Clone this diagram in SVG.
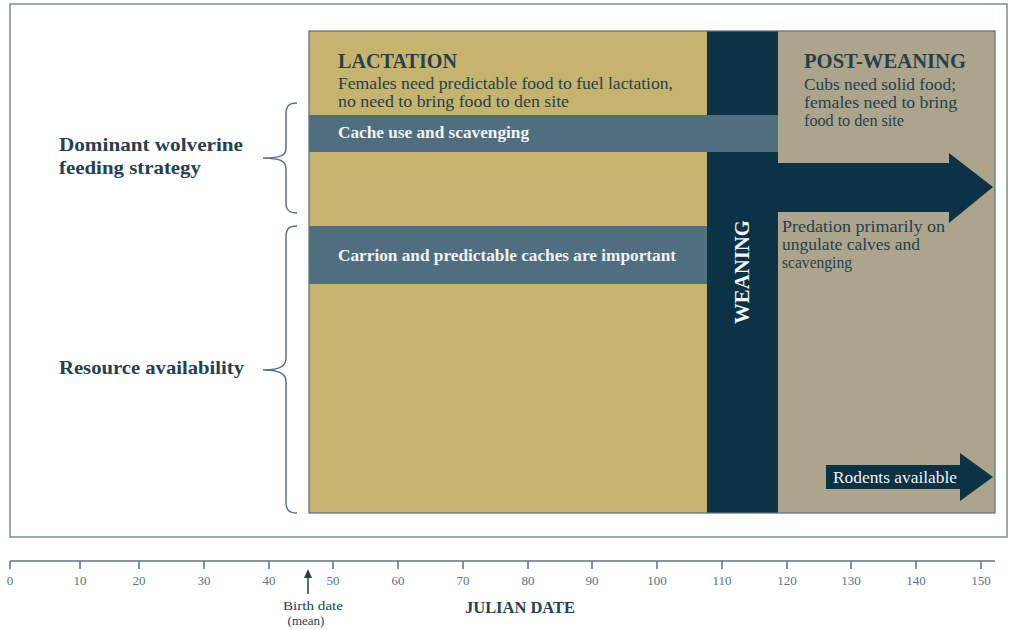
<svg xmlns="http://www.w3.org/2000/svg" width="1010" height="630" viewBox="0 0 1010 630">
<style>
.t{font-family:"Liberation Serif","DejaVu Serif",serif;fill:#24414f}
.b{font-weight:bold}
.w{fill:#f2f2f2}
.tick{stroke:#5a7380;stroke-width:1.5}
.tl{font-family:"Liberation Serif",serif;font-size:13px;fill:#5a7380;text-anchor:middle}
.brace{fill:none;stroke:#5a7380;stroke-width:1.5}
</style>
<rect width="1010" height="630" fill="#ffffff"/>
<rect id="frame" x="10" y="4" width="997" height="533" fill="none" stroke="#7a8c94" stroke-width="1.5"/>
<g id="lactation">
<rect x="309" y="31" width="398" height="482" fill="#c6b36d"/>
<text class="t b" x="338" y="68" font-size="20" textLength="119" lengthAdjust="spacingAndGlyphs">LACTATION</text>
<text class="t" x="338" y="89" font-size="16" textLength="335" lengthAdjust="spacingAndGlyphs">Females need predictable food to fuel lactation,</text>
<text class="t" x="338" y="107" font-size="16" textLength="231" lengthAdjust="spacingAndGlyphs">no need to bring food to den site</text>
</g>
<g id="post-weaning">
<rect x="778" y="31" width="217" height="482" fill="#ada48c"/>
<text class="t b" x="804" y="68" font-size="20" textLength="162" lengthAdjust="spacingAndGlyphs">POST-WEANING</text>
<text class="t" x="804" y="90" font-size="16" textLength="152" lengthAdjust="spacingAndGlyphs">Cubs need solid food;</text>
<text class="t" x="804" y="108" font-size="16" textLength="153" lengthAdjust="spacingAndGlyphs">females need to bring</text>
<text class="t" x="804" y="126" font-size="16" textLength="100" lengthAdjust="spacingAndGlyphs">food to den site</text>
<text class="t" x="782" y="232" font-size="16" textLength="163" lengthAdjust="spacingAndGlyphs">Predation primarily on</text>
<text class="t" x="782" y="250" font-size="16" textLength="138" lengthAdjust="spacingAndGlyphs">ungulate calves and</text>
<text class="t" x="782" y="268" font-size="16" textLength="70" lengthAdjust="spacingAndGlyphs">scavenging</text>
</g>
<g id="weaning">
<rect x="707" y="31" width="71" height="482" fill="#0c3246"/>
<path d="M776,163 H949 V153 L993,187 L949,223 V212 H776 Z" fill="#0c3246"/>
<text class="t w b" font-size="20" transform="translate(749,272) rotate(-90)" text-anchor="middle" textLength="104" lengthAdjust="spacingAndGlyphs">WEANING</text>
</g>
<g id="cache">
<rect x="309" y="115" width="469" height="37" fill="#4f6f80"/>
<text class="t w b" x="338" y="138" font-size="16" textLength="191" lengthAdjust="spacingAndGlyphs">Cache use and scavenging</text>
</g>
<g id="carrion">
<rect x="309" y="226" width="398" height="58" fill="#4f6f80"/>
<text class="t w b" x="338" y="261" font-size="16" textLength="338" lengthAdjust="spacingAndGlyphs">Carrion and predictable caches are important</text>
</g>
<g id="rodents">
<path d="M826,465 H960 V453 L993,477 L960,501 V489 H826 Z" fill="#0c3246"/>
<text class="t w" x="833" y="483" font-size="16" textLength="124" lengthAdjust="spacingAndGlyphs">Rodents available</text>
</g>
<rect x="309" y="31" width="686" height="482" fill="none" stroke="#5c6e75" stroke-width="1.2"/>
<g id="labels">
<text class="t b" x="59" y="151" font-size="19" textLength="184" lengthAdjust="spacingAndGlyphs">Dominant wolverine</text>
<text class="t b" x="59" y="174" font-size="19" textLength="142" lengthAdjust="spacingAndGlyphs">feeding strategy</text>
<text class="t b" x="59" y="374" font-size="19" textLength="185" lengthAdjust="spacingAndGlyphs">Resource availability</text>
</g>
<g id="connectors">
<path class="brace" d="M297,103 C289,103 286,106 286,114 V148 C286,155 282,158 263,158 C282,158 286,162 286,169 V203 C286,210 289,213 297,213"/>
<path class="brace" d="M297,226 C289,226 286,229 286,237 V358 C286,365 282,370 263,370 C282,370 286,375 286,382 V502 C286,510 289,513 297,513"/>
</g>
<g id="axis">
<line class="tick" x1="10" y1="561" x2="995" y2="561"/>
<g class="ticks">
<line class="tick" x1="10" y1="561" x2="10" y2="569"/>
<line class="tick" x1="80" y1="561" x2="80" y2="569"/>
<line class="tick" x1="139" y1="561" x2="139" y2="569"/>
<line class="tick" x1="204" y1="561" x2="204" y2="569"/>
<line class="tick" x1="269" y1="561" x2="269" y2="569"/>
<line class="tick" x1="333" y1="561" x2="333" y2="569"/>
<line class="tick" x1="398" y1="561" x2="398" y2="569"/>
<line class="tick" x1="463" y1="561" x2="463" y2="569"/>
<line class="tick" x1="528" y1="561" x2="528" y2="569"/>
<line class="tick" x1="592" y1="561" x2="592" y2="569"/>
<line class="tick" x1="657" y1="561" x2="657" y2="569"/>
<line class="tick" x1="722" y1="561" x2="722" y2="569"/>
<line class="tick" x1="787" y1="561" x2="787" y2="569"/>
<line class="tick" x1="851" y1="561" x2="851" y2="569"/>
<line class="tick" x1="916" y1="561" x2="916" y2="569"/>
<line class="tick" x1="981" y1="561" x2="981" y2="569"/>
</g>
<text class="tl" x="10" y="585">0</text>
<text class="tl" x="80" y="585">10</text>
<text class="tl" x="139" y="585">20</text>
<text class="tl" x="204" y="585">30</text>
<text class="tl" x="269" y="585">40</text>
<text class="tl" x="333" y="585">50</text>
<text class="tl" x="398" y="585">60</text>
<text class="tl" x="463" y="585">70</text>
<text class="tl" x="528" y="585">80</text>
<text class="tl" x="592" y="585">90</text>
<text class="tl" x="657" y="585">100</text>
<text class="tl" x="722" y="585">110</text>
<text class="tl" x="787" y="585">120</text>
<text class="tl" x="851" y="585">130</text>
<text class="tl" x="916" y="585">140</text>
<text class="tl" x="981" y="585">150</text>
<line x1="308" y1="594" x2="308" y2="577" stroke="#24414f" stroke-width="1.5"/>
<path d="M304,578 L308,569 L312,578 Z" fill="#24414f"/>
<text class="t" x="313" y="610" font-size="13" text-anchor="middle" fill="#4a6270" textLength="60" lengthAdjust="spacingAndGlyphs">Birth date</text>
<text class="t" x="306" y="625" font-size="13" text-anchor="middle" fill="#4a6270">(mean)</text>
<text class="t b" x="465" y="613" font-size="16" textLength="110" lengthAdjust="spacingAndGlyphs">JULIAN DATE</text>
</g>
</svg>
